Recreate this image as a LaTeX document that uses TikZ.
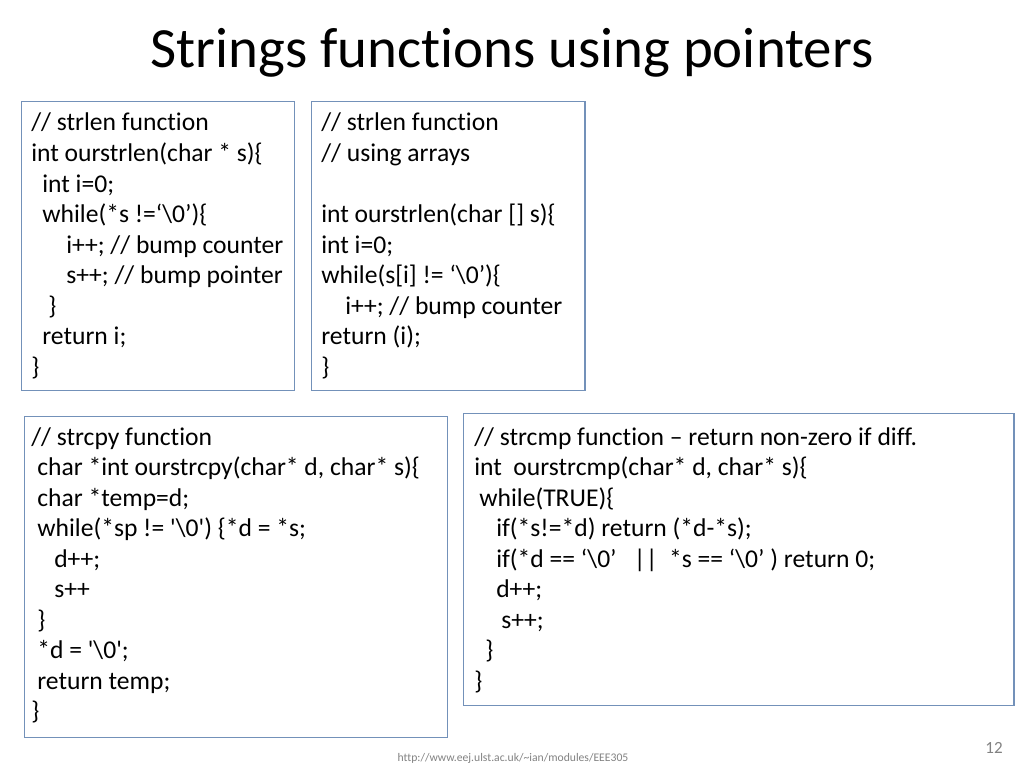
\documentclass[tikz,border=0pt]{standalone}
\usepackage{fontspec}
\setmainfont{Carlito}[Ligatures=NoCommon]
\newdimen\mypx \mypx=0.703125pt
\newcommand\ind[1]{\hspace*{#1\mypx}}
\newcommand\bs{\textbackslash}
\newcommand\sq{\textquotesingle}
\definecolor{boxblue}{RGB}{115,145,185}
\definecolor{footgray}{RGB}{130,130,130}
\tikzset{
  codebox/.style={draw=boxblue, line width=1.05pt, inner sep=0pt, anchor=north west},
  codetext/.style={anchor=base west, inner sep=0pt, font=\fontsize{18}{21.48}\selectfont},
}
\newcommand\codelines[1]{\parbox[t]{700pt}{\raggedright #1}}
\begin{document}
\begin{tikzpicture}[x=0.703125pt,y=-0.703125pt]
\useasboundingbox[fill=white] (0,0) rectangle (1024,768);
\node[anchor=base, inner sep=0pt, font=\fontsize{40}{48}\selectfont] (title) at (512,68) {Strings functions using pointers};

\node[codebox, minimum width=273\mypx, minimum height=289\mypx] (b1) at (21,101) {};
\node[codebox, minimum width=273\mypx, minimum height=289\mypx] (b2) at (311,101) {};
\node[codebox, minimum width=423\mypx, minimum height=321\mypx] (b3) at (24,416) {};
\node[codebox, minimum width=550\mypx, minimum height=292\mypx] (b4) at (463,413) {};

\node[codetext] (t1) at (31,131) {\codelines{%
// strlen function\\
int ourstrlen(char * s)\{\\
\ind{11}int i=0;\\
\ind{11}while(*s !=‘\bs0’)\{\\
\ind{35}i++; // bump counter\\
\ind{35}s++; // bump pointer\\
\ind{17}\}\\
\ind{11}return i;\\
\}}};

\node[codetext] (t2) at (321,131) {\codelines{%
// strlen function\\
// using arrays\\
\mbox{}\\
int ourstrlen(char [] s)\{\\
int i=0;\\
while(s[i] != ‘\bs0’)\{\\
\ind{24}i++; // bump counter\\
return (i);\\
\}}};

\node[codetext] (t3) at (31,445) {\codelines{%
// strcpy function\\
\ind{6}char *int ourstrcpy(char* d, char* s)\{\\
\ind{6}char *temp=d;\\
\ind{6}while(*sp != \sq\bs0\sq) \{*d = *s;\\
\ind{23}d++;\\
\ind{23}s++\\
\ind{6}\}\\
\ind{6}*d = \sq\bs0\sq;\\
\ind{6}return temp;\\
\}}};

\node[codetext] (t4) at (474,445) {\codelines{%
// strcmp function – return non-zero if diff.\\
int\ \ ourstrcmp(char* d, char* s)\{\\
\ind{5}while(TRUE)\{\\
\ind{22}if(*s!=*d) return (*d-*s);\\
\ind{22}if(*d == ‘\bs0’\ \ \ ||\ \ *s == ‘\bs0’ ) return 0;\\
\ind{22}d++;\\
\ind{27}s++;\\
\ind{11}\}\\
\}}};

\node[anchor=base, inner sep=0pt, text=footgray, font=\fontsize{8.2}{10}\selectfont] (url) at (513,761) {http://www.eej.ulst.ac.uk/\textasciitilde ian/modules/EEE305};
\node[anchor=base east, inner sep=0pt, text=footgray, font=\fontsize{12}{14}\selectfont] (pnum) at (1003,753) {12};
\end{tikzpicture}
\end{document}
